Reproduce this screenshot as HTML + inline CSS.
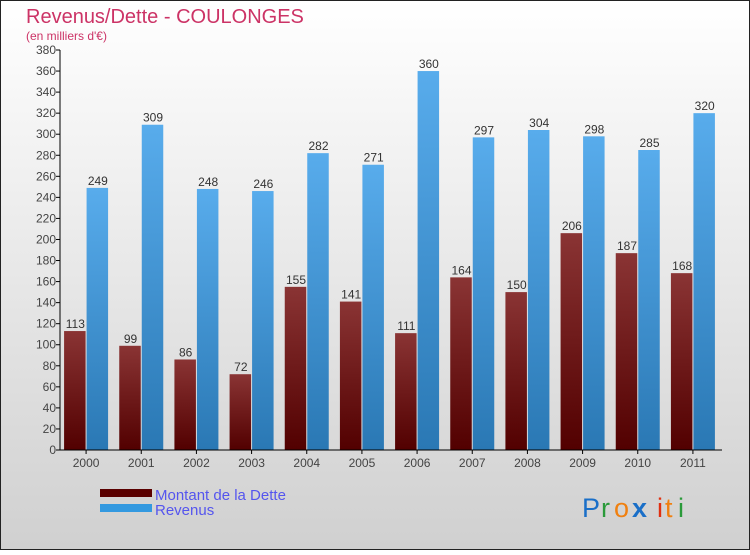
<!DOCTYPE html>
<html><head><meta charset="utf-8"><style>
html,body{margin:0;padding:0}
body{width:750px;height:550px;overflow:hidden;font-family:"Liberation Sans",sans-serif}
</style></head><body>
<svg id="chart" width="750" height="550" xmlns="http://www.w3.org/2000/svg">
<defs>
<linearGradient id="bg" x1="0" y1="0" x2="0" y2="1"><stop offset="0" stop-color="#ffffff"/><stop offset="1" stop-color="#d0d0d0"/></linearGradient>
<linearGradient id="gd" x1="0" y1="0" x2="0" y2="1"><stop offset="0" stop-color="#8a3434"/><stop offset="1" stop-color="#520000"/></linearGradient>
<linearGradient id="gr" x1="0" y1="0" x2="0" y2="1"><stop offset="0" stop-color="#58acec"/><stop offset="1" stop-color="#2a78b4"/></linearGradient>
</defs>
<rect x="0.5" y="0.5" width="749" height="549" fill="url(#bg)" stroke="#222"/>
<text x="26" y="23" font-size="20" fill="#cc3366">Revenus/Dette - COULONGES</text>
<text x="26" y="40" font-size="12" fill="#cc3366">(en milliers d'€)</text>
<g id="plot"></g>
<rect x="100" y="489" width="52" height="8" fill="#5a0000"/>
<text x="155" y="500" font-size="15" fill="#5555ee">Montant de la Dette</text>
<rect x="100" y="504" width="52" height="8" fill="#3399e0"/>
<text x="155" y="515" font-size="15" fill="#5555ee">Revenus</text>
<g font-size="27" font-family="Liberation Sans, sans-serif">
<text x="582" y="517" fill="#1a6fc8">P</text><text x="601" y="517" fill="#2a9a3a">r</text><text x="614" y="517" fill="#f08010">o</text><text x="632" y="517" fill="#1a6fc8" font-weight="bold">x</text><text x="657" y="517" fill="#e03010">i</text><text x="665" y="517" fill="#f08010">t</text><text x="678" y="517" fill="#2a9a3a">i</text>
</g>
</svg>
<script>
const years=["2000","2001","2002","2003","2004","2005","2006","2007","2008","2009","2010","2011"];
const dette=[113,99,86,72,155,141,111,164,150,206,187,168];
const revenus=[249,309,248,246,282,271,360,297,304,298,285,320];
const yTicks=[0,20,40,60,80,100,120,140,160,180,200,220,240,260,280,300,320,340,360,380];
const NS="http://www.w3.org/2000/svg";
const g=document.getElementById("plot");
const x0=60,x1=722,yB=450,yT=50,ymax=380;
const y=v=>yB-(v/ymax)*(yB-yT);
const step=(x1-x0)/years.length;
const cx=i=>x0+step*(i+0.5)-1.5;
function el(t,a){const e=document.createElementNS(NS,t);for(const k in a)e.setAttribute(k,a[k]);g.appendChild(e);return e;}
yTicks.forEach(v=>{
 const l=el("line",{x1:x0-4,x2:x0,y1:y(v),y2:y(v),stroke:"#000"});
 
 
 const t=el("text",{x:x0-4,y:y(v)+4,"text-anchor":"end","font-size":"12",fill:"#444"});
 t.textContent=v;
 
 
});
const bw=21.5;
years.forEach((yr,i)=>{
 const c=cx(i);
 const b1=el("rect",{x:c-bw-0.5,y:y(dette[i]),width:bw,height:yB-y(dette[i]),fill:"url(#gd)"});
 
 
 const b2=el("rect",{x:c+0.5,y:y(revenus[i]),width:bw,height:yB-y(revenus[i]),fill:"url(#gr)"});
 
 
 const t1=el("text",{x:c-bw/2,y:y(dette[i])-3,"text-anchor":"middle","font-size":"12",fill:"#333"});
 t1.textContent=dette[i];
 
 
 const t2=el("text",{x:c+bw/2+1,y:y(revenus[i])-3,"text-anchor":"middle","font-size":"12",fill:"#333"});
 t2.textContent=revenus[i];
 
 
 const tk=el("line",{x1:c,x2:c,y1:yB,y2:yB+4,stroke:"#000"});
 
 
 const xl=el("text",{x:c,y:yB+17,"text-anchor":"middle","font-size":"12",fill:"#444"});
 xl.textContent=yr;
 
 
});
const ya=el("line",{x1:x0,x2:x0,y1:yT,y2:yB,stroke:"#000"});


const xa=el("line",{x1:x0,x2:x1,y1:yB,y2:yB,stroke:"#000"});


</script>
</body></html>
